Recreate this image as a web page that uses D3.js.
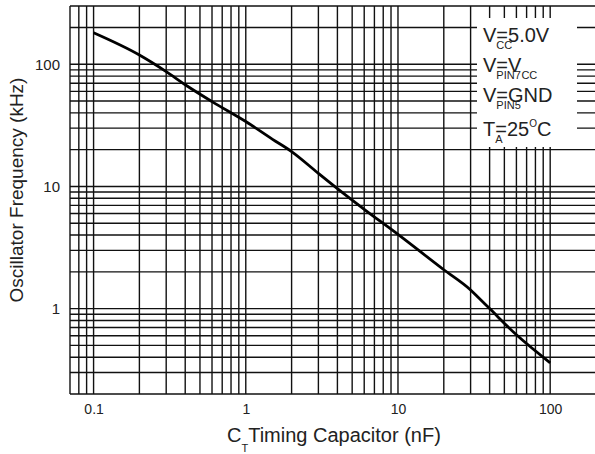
<!DOCTYPE html>
<html>
<head>
<meta charset="utf-8">
<script src="https://cdn.jsdelivr.net/npm/d3@7"></script>
<style>
  body { margin: 0; background: #fff; }
  svg { display: block; font-family: "Liberation Sans", Arial, sans-serif; }
</style>
</head>
<body>
<div class="graph"></div>
<script>
// oscillator frequency vs timing capacitor
const capNF   = [0.1, 0.2, 0.3, 0.4, 0.6, 1, 1.5, 2, 3, 4, 6, 10, 20, 30, 34, 40, 60, 100];
const freqKHz = [181, 119, 87, 68, 49.5, 34, 24.3, 19.3, 12.8, 9.6, 6.5, 4.05, 2.08, 1.42, 1.22, 1.0, 0.61, 0.36];

const xTicks = [0.1, 1, 10, 100];
const xTickLabels = ["0.1", "1", "10", "100"];
const yTicks = [1, 10, 100];
const yTickLabels = ["1", "10", "100"];

const legendLines = [
    [{t: "V"}, {t: "CC", sub: true}, {t: "=5.0V"}],
    [{t: "V"}, {t: "PIN7", sub: true}, {t: "=V"}, {t: "CC", sub: true}],
    [{t: "V"}, {t: "PIN5", sub: true}, {t: "=GND"}],
    [{t: "T"}, {t: "A", sub: true}, {t: "=25"}, {t: "O", sup: true}, {t: "C"}],
];

const width = 595;
const height = 454;
const plotLeft = 70, plotTop = 6, plotBottom = 394;

const x = d3.scaleLog().domain([0.07, 200]).range([plotLeft, 596]);
const y = d3.scaleLog().domain([0.2, 300]).range([plotBottom, plotTop]);

const svg = d3.select(".graph")
        .append("svg")
        .attr("width", width)
        .attr("height", height);

// grid: every 1..9 of each decade inside the domain
const gridVals = domain => {
    const out = [];
    for (let e = -2; e <= 3; e++) {
        for (let m = 1; m <= 9; m++) {
            const v = +(m * Math.pow(10, e)).toPrecision(3);
            if (v >= domain[0] - 1e-9 && v <= domain[1] + 1e-9) out.push(v);
        }
    }
    return out;
};

const grid = svg.append("g")
        .attr("stroke", "#111")
        .attr("stroke-width", 1.4);

grid.selectAll(".vx")
        .data(gridVals(x.domain())).enter()
        .append("line")
        .attr("x1", d => x(d)).attr("x2", d => x(d))
        .attr("y1", plotTop).attr("y2", plotBottom);

grid.selectAll(".hy")
        .data(gridVals(y.domain())).enter()
        .append("line")
        .attr("x1", plotLeft).attr("x2", width)
        .attr("y1", d => y(d)).attr("y2", d => y(d));

// legend box blanks out the grid
svg.append("rect")
        .attr("x", 477).attr("y", 18)
        .attr("width", 100).attr("height", 129)
        .attr("fill", "#fff");

const legend = svg.append("g").attr("fill", "#222");
const baselines = [42, 72, 102, 136];
legendLines.forEach((parts, i) => {
    let cx = 483;
    const by = baselines[i];
    parts.forEach(p => {
        const small = p.sub || p.sup;
        const t = legend.append("text")
                .attr("x", cx)
                .attr("y", by + (p.sub ? 7 : p.sup ? -9 : 0))
                .attr("font-size", small ? (p.sup ? 10 : 11) : 20)
                .text(p.t);
        if (!p.sub) cx += t.node().getComputedTextLength();
    });
});

// curve
const line = d3.line()
        .x((_, i) => x(capNF[i]))
        .y(d => y(d))
        .curve(d3.curveMonotoneX);

svg.append("path")
        .datum(freqKHz)
        .attr("d", line)
        .attr("fill", "none")
        .attr("stroke", "#000")
        .attr("stroke-width", 2.8);

// tick labels
const xAxis = svg.append("g")
        .attr("transform", `translate(0,${plotBottom})`)
        .call(d3.axisBottom(x).tickValues(xTicks)
                .tickFormat((_, i) => xTickLabels[i])
                .tickSize(0).tickPadding(10));
xAxis.select(".domain").remove();
xAxis.selectAll("text")
        .attr("font-family", "Liberation Sans, Arial, sans-serif")
        .attr("font-size", 14).attr("fill", "#222");

const yAxis = svg.append("g")
        .attr("transform", `translate(${plotLeft},0)`)
        .call(d3.axisLeft(y).tickValues(yTicks)
                .tickFormat((_, i) => yTickLabels[i])
                .tickSize(0).tickPadding(10));
yAxis.select(".domain").remove();
yAxis.selectAll("text")
        .attr("font-family", "Liberation Sans, Arial, sans-serif")
        .attr("font-size", 15).attr("fill", "#222");

// axis titles
const xTitle = svg.append("text")
        .attr("y", 442)
        .attr("font-size", 20)
        .attr("fill", "#222");
xTitle.append("tspan").attr("x", 227).text("C");
xTitle.append("tspan").attr("font-size", 11).attr("dy", 10).text("T");
xTitle.append("tspan").attr("dy", -10).text("Timing Capacitor (nF)");

svg.append("text")
        .attr("transform", "translate(23,190) rotate(-90)")
        .attr("text-anchor", "middle")
        .attr("font-size", 19)
        .attr("fill", "#222")
        .text("Oscillator Frequency (kHz)");
</script>
</body>
</html>
